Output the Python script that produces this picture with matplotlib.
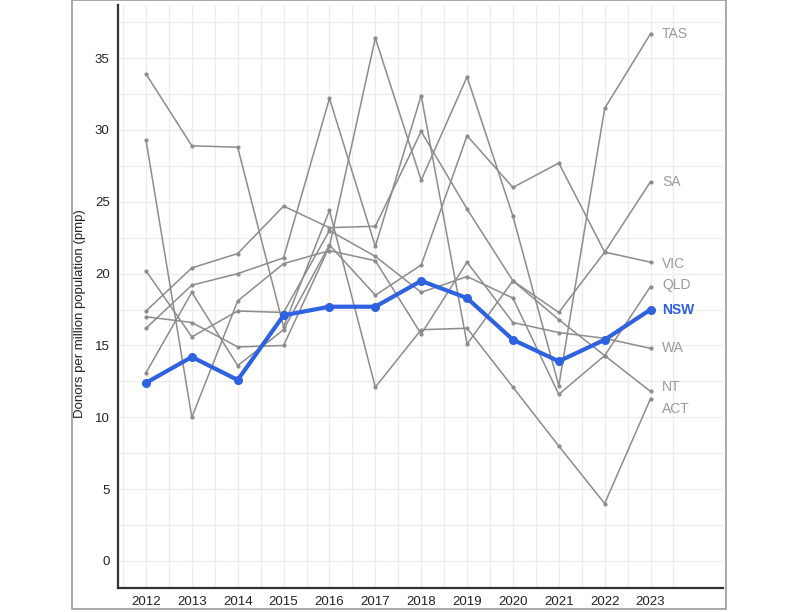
import matplotlib
matplotlib.use('Agg')
import matplotlib.pyplot as plt
from matplotlib.patches import Rectangle

plt.rcParams['font.family'] = ['Liberation Sans', 'DejaVu Sans']

years = list(range(2012, 2024))

# donors per million population
tas = [17.0, 16.6, 14.9, 15.0, 21.9, 36.4, 26.5, 33.7, 24.0, 12.2, 31.5, 36.7]
sa = [17.4, 20.4, 21.4, 24.7, 23.2, 23.3, 29.9, 24.5, 19.5, 17.3, 21.5, 26.4]
vic = [13.1, 18.7, 13.6, 16.1, 22.0, 18.5, 20.6, 29.6, 26.0, 27.7, 21.5, 20.8]
qld = [20.2, 15.6, 17.4, 17.3, 23.0, 21.2, 18.7, 19.8, 18.3, 11.6, 14.3, 19.1]
wa = [29.3, 10.0, 18.1, 20.7, 21.6, 20.9, 15.8, 20.8, 16.6, 15.9, 15.5, 14.8]
nt = [16.2, 19.2, 20.0, 21.1, 32.2, 21.9, 32.4, 15.1, 19.5, 16.8, 14.3, 11.8]
act = [33.9, 28.9, 28.8, 16.3, 24.4, 12.1, 16.1, 16.2, 12.1, 8.0, 4.0, 11.3]
nsw = [12.4, 14.2, 12.6, 17.1, 17.7, 17.7, 19.5, 18.3, 15.4, 13.9, 15.4, 17.5]

others = [('TAS', tas), ('SA', sa), ('VIC', vic), ('QLD', qld),
          ('WA', wa), ('NT', nt), ('ACT', act)]
label_y = {'TAS': 36.7, 'SA': 26.4, 'VIC': 20.7, 'QLD': 19.2,
           'WA': 14.8, 'NT': 12.1, 'ACT': 10.6}

grey = '#8c8c8c'
blue = '#2f62e0'

fig = plt.figure(figsize=(8, 6.12), dpi=100)
fig.patches.append(Rectangle((72/800, 3/612), 654/800, 609/612,
                             transform=fig.transFigure, fill=False,
                             edgecolor='#9a9a9a', linewidth=1.2))
ax = fig.add_axes([118/800, 24/612, 605/800, 583/612])

for name, vals in others:
    ax.plot(years, vals, color=grey, lw=1.1, marker='o', ms=2, zorder=2)
    ax.text(2023.25, label_y[name], name, color='#9a9a9a', fontsize=10,
            va='center', ha='left')

ax.plot(years, nsw, color=blue, lw=3, marker='o', ms=5.5, zorder=3)
ax.text(2023.25, 17.5, 'NSW', color=blue, fontsize=10, fontweight='bold',
        va='center', ha='left')

ax.set_xlim(2011.39, 2024.58)
ax.set_ylim(-1.88, 38.7)
ax.set_xticks(years)
ax.set_xticklabels([str(y) for y in years])
ax.set_xticks([y + 0.5 for y in range(2011, 2024)], minor=True)
ax.set_yticks(range(0, 40, 5))
ax.set_yticks([2.5 + 5 * i for i in range(8)], minor=True)
ax.grid(True, which='both', color='#ececec', lw=0.9)
ax.set_axisbelow(True)
ax.tick_params(which='both', length=0, labelsize=9.5, colors='#222222')
ax.tick_params(axis='x', pad=6)
ax.tick_params(axis='y', pad=6)

for s in ['top', 'right']:
    ax.spines[s].set_visible(False)
for s in ['left', 'bottom']:
    ax.spines[s].set_color('#333333')
    ax.spines[s].set_linewidth(1.6)

ax.set_ylabel('Donors per million population (pmp)', fontsize=9.5,
              color='#222222')
ax.yaxis.set_label_coords(-0.053, 0.47)

fig.savefig('out.png', dpi=100)
